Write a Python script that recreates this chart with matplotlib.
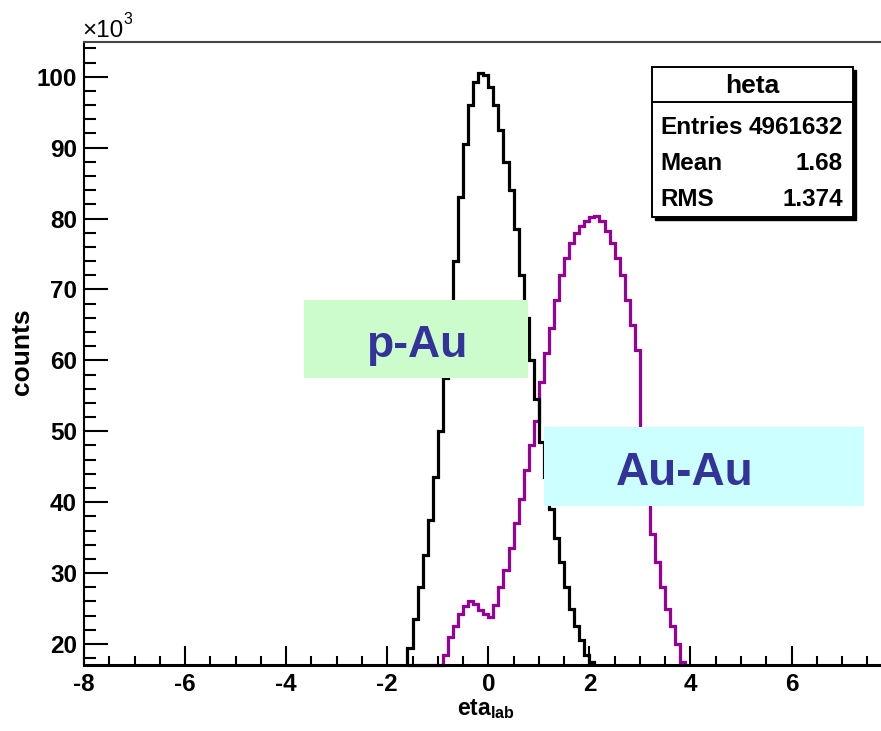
import numpy as np
import matplotlib
matplotlib.use("Agg")
import matplotlib.pyplot as plt
from matplotlib.patches import Rectangle
from matplotlib.lines import Line2D
from matplotlib.ticker import MultipleLocator

plt.rcParams['font.family'] = ['Liberation Sans', 'DejaVu Sans']
plt.rcParams['mathtext.fontset'] = 'custom'
plt.rcParams['mathtext.rm'] = 'Liberation Sans'
plt.rcParams['mathtext.bf'] = 'Liberation Sans:bold'
plt.rcParams['axes.unicode_minus'] = False

# histogram data (counts in units of 10^3), bins of width 0.1 starting at eta = -1.6
bin_start = -1.6
bin_width = 0.1
pau_counts = [19.5, 23.5, 28, 32.5, 37.5, 43.5, 50, 57.5, 66, 74,
              83, 90.5, 96, 99.3, 100.5, 100.3, 98.5, 96, 92.5, 88,
              84, 78.5, 72, 66, 60, 54.5, 48.5, 43.5, 39, 35,
              31.5, 28, 25, 22.5, 20.5, 18.5, 17.5]
auau_counts = [11, 12, 13, 14, 15, 15.5, 16.5, 18.5, 21, 22.5,
               24.2, 25.3, 26, 25.6, 24.8, 24.2, 23.8, 25.5, 28, 30.5,
               33.5, 37, 40.5, 44.5, 48, 51.5, 57, 61, 64.5, 68.5,
               72, 74.5, 76.5, 78, 79, 79.6, 80.2, 80.4, 79.6, 78.2,
               76.6, 74.5, 72, 68.5, 65, 61.5, 44, 40, 35.5, 31.5,
               28, 25, 22.5, 20, 17.5]

stat_names = ['Entries', 'Mean', 'RMS']
stat_values = ['4961632', '1.68', '1.374']

W, H = 881, 731
def fx(px):
    return px / W
def fy(py):
    return 1 - py / H

fig = plt.figure(figsize=(W / 100, H / 100), dpi=100)
ax = fig.add_axes([fx(84), fy(665), (881 - 84) / W, (665 - 42) / H])

y_lo, y_hi = 17.04, 104.9
ax.set_xlim(-8, 7.77)
ax.set_ylim(y_lo, y_hi)

for counts, col in [(auau_counts, '#990099'), (pau_counts, 'black')]:
    vals = np.maximum(np.array(counts, dtype=float), y_lo)
    edges = bin_start + bin_width * np.arange(len(vals) + 1)
    ax.stairs(vals, edges, baseline=y_lo, color=col, lw=2.3, clip_on=False)

ax.xaxis.set_major_locator(MultipleLocator(2))
ax.xaxis.set_minor_locator(MultipleLocator(0.5))
ax.yaxis.set_major_locator(MultipleLocator(10))
ax.yaxis.set_minor_locator(MultipleLocator(2))
ax.tick_params(axis='x', which='major', direction='in', length=13.5, width=1.5,
               labelsize=17.5, pad=6, top=False)
ax.tick_params(axis='x', which='minor', direction='in', length=6.5, width=1.5, top=False)
ax.tick_params(axis='y', which='major', direction='in', length=17, width=1.5,
               labelsize=17.5, pad=5, right=False)
ax.tick_params(axis='y', which='minor', direction='in', length=8.5, width=1.5, right=False)
for lab in ax.get_xticklabels() + ax.get_yticklabels():
    lab.set_fontweight('bold')

ax.spines['right'].set_visible(False)
ax.spines['top'].set_color('#444444')
ax.spines['top'].set_linewidth(1.5)
ax.spines['left'].set_linewidth(1.5)
ax.spines['bottom'].set_linewidth(2.2)

# axis titles
fig.text(fx(486), fy(715), r'$\mathbf{eta_{lab}}$', ha='center', va='baseline', fontsize=16.5)
fig.text(fx(22), fy(352), 'counts', rotation=90, ha='center', va='center',
         fontsize=19, fontweight='bold')
fig.text(fx(82), fy(37), '×10', ha='left', va='baseline', fontsize=17.5)
fig.text(fx(123), fy(24), '3', ha='left', va='baseline', fontsize=11.5)

# stats box
bx0, bx1, by0, by1, bdiv = 652, 853, 67, 217, 102
fig.add_artist(Rectangle((fx(bx0 + 3), fy(by1 + 3)), (bx1 - bx0) / W, (by1 - by0) / H,
                         transform=fig.transFigure, facecolor='black', edgecolor='black', lw=1))
fig.add_artist(Rectangle((fx(bx0), fy(by1)), (bx1 - bx0) / W, (by1 - by0) / H,
                         transform=fig.transFigure, facecolor='white', edgecolor='black', lw=1.4))
fig.add_artist(Line2D([fx(bx0), fx(bx1)], [fy(bdiv), fy(bdiv)], transform=fig.transFigure,
                      color='black', lw=1.4))
fig.text(fx((bx0 + bx1) / 2), fy(86), 'heta', ha='center', va='center',
         fontsize=19, fontweight='bold')
for i, (nm, val) in enumerate(zip(stat_names, stat_values)):
    yy = fy(128 + 35.5 * i)
    fig.text(fx(660), yy, nm, ha='left', va='center', fontsize=17.5, fontweight='bold')
    fig.text(fx(843), yy, val, ha='right', va='center', fontsize=17.5, fontweight='bold')

# label boxes
fig.add_artist(Rectangle((fx(304), fy(378)), (528 - 304) / W, (378 - 300) / H,
                         transform=fig.transFigure, facecolor='#ccfccc', edgecolor='none'))
fig.text(fx(417), fy(357), 'p-Au', ha='center', va='baseline', fontsize=32,
         fontweight='bold', color='#333399')
fig.add_artist(Rectangle((fx(544), fy(506)), (864 - 544) / W, (506 - 427) / H,
                         transform=fig.transFigure, facecolor='#ccffff', edgecolor='none'))
fig.text(fx(685), fy(485), 'Au-Au', ha='center', va='baseline', fontsize=33,
         fontweight='bold', color='#333399')

fig.savefig('out.png', dpi=100)
